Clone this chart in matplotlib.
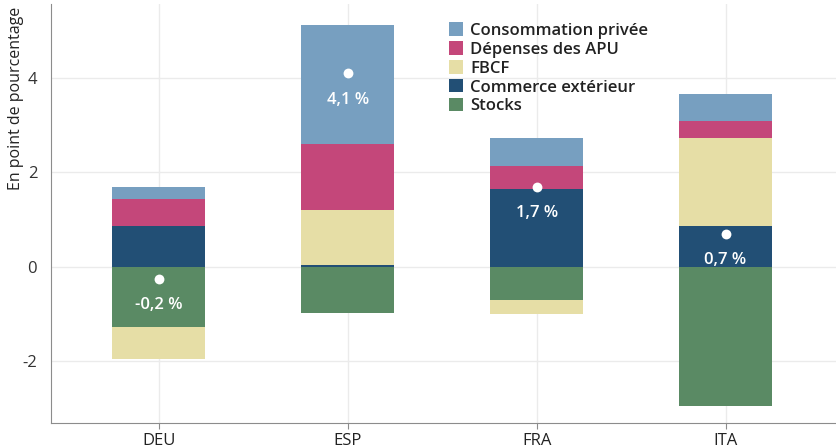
import numpy as np
import matplotlib
matplotlib.use("Agg")
import matplotlib.pyplot as plt

plt.rcParams['font.family'] = ['Open Sans', 'DejaVu Sans']

# Data
pays = ['DEU', 'ESP', 'FRA', 'ITA']
series = ['Consommation privée', 'Dépenses des APU', 'FBCF', 'Commerce extérieur', 'Stocks']
couleurs = ['#779fc0', '#c4477a', '#e6dea6', '#224f75', '#5a8a64']
conso = [0.25, 2.52, 0.59, 0.57]
apu = [0.57, 1.39, 0.49, 0.36]
fbcf = [-0.68, 1.17, -0.29, 1.86]
commerce = [0.87, 0.04, 1.65, 0.87]
stocks = [-1.27, -0.97, -0.70, -2.94]
total = [-0.25, 4.1, 1.7, 0.7]
total_lbl = ['-0,2 %', '4,1 %', '1,7 %', '0,7 %']

# stacking order from zero outward
ordre = [commerce, stocks, fbcf, apu, conso]
ordre_idx = [3, 4, 2, 1, 0]

fig = plt.figure(figsize=(8.37, 4.48), dpi=100)
ax = fig.add_axes([0.061, 0.056, 0.939, 0.934])

x = np.arange(len(pays))
pos = np.zeros(len(pays))
neg = np.zeros(len(pays))
handles = {}
for vals, i in zip(ordre, ordre_idx):
    v = np.array(vals)
    bottom = np.where(v >= 0, pos, neg)
    b = ax.bar(x, v, 0.49, bottom=bottom, color=couleurs[i], zorder=3, linewidth=0)
    handles[i] = b
    pos = pos + np.where(v >= 0, v, 0)
    neg = neg + np.where(v < 0, v, 0)

ax.scatter(x, total, s=50, color='white', zorder=5, linewidths=0)
for xi, t, lbl in zip(x, total, total_lbl):
    ax.text(xi, t - 0.56, lbl, ha='center', va='center', color='white',
            fontsize=12, fontweight='semibold', zorder=6)

ax.set_xlim(-0.57, 3.59)
ax.set_ylim(-3.3, 5.55)
ax.set_yticks([-2, 0, 2, 4])
ax.set_yticklabels(['-2', '0', '2', '4'])
ax.set_xticks(x)
ax.set_xticklabels(pays)
ax.grid(True, color='#ebebeb', linewidth=1, zorder=0)
for s in ['top', 'right']:
    ax.spines[s].set_visible(False)
for s in ['left', 'bottom']:
    ax.spines[s].set_color('#8c8c8c')
ax.tick_params(axis='y', length=0, labelsize=12, colors='#333333', pad=10)
ax.tick_params(axis='x', length=4, color='#8c8c8c', labelsize=12, colors='#222222')
ax.set_ylabel('En point de pourcentage', fontsize=11.5, color='#222222', loc='top')
ax.yaxis.set_label_coords(-0.035, 0.995)

ax.legend([handles[i] for i in range(5)], series, loc='upper left',
          bbox_to_anchor=(0.487, 0.993), frameon=False, prop={'weight': 'semibold', 'size': 12},
          handlelength=0.85, handleheight=0.85, handletextpad=0.45, labelspacing=0.15,
          labelcolor='#222222')

fig.savefig('out.png', dpi=100)
